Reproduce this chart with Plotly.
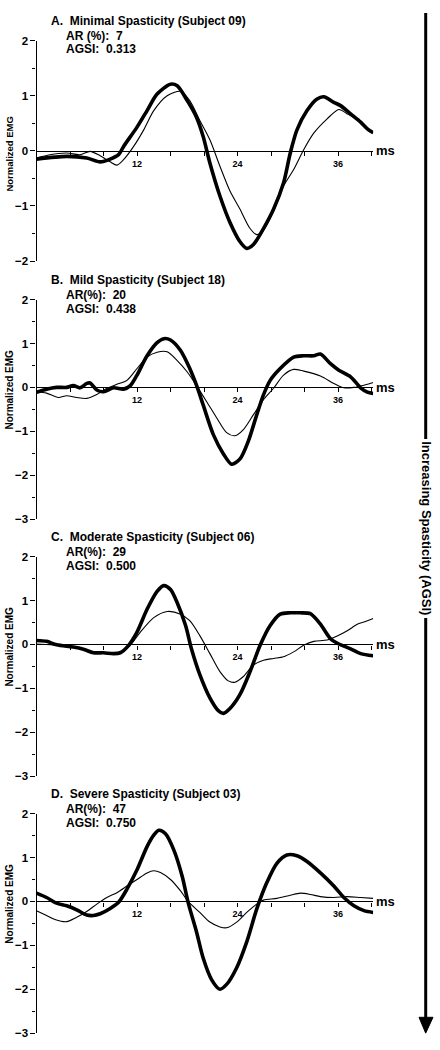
import plotly.graph_objects as go

# ---------------- data ----------------
# Panel A: Minimal Spasticity (Subject 09)
a_thick_t = [0.0, 3.6, 6.0, 7.6, 8.8, 9.8, 10.4, 12.0, 13.2, 14.4, 16.0, 16.8, 18.0, 19.1, 19.9, 20.7, 21.9, 23.1, 24.3, 25.1, 25.9, 27.1, 28.3, 29.5, 30.3, 31.1, 32.3, 33.5, 34.3, 35.5, 36.3, 37.5, 38.7, 39.5, 40.2]
a_thick_v = [-0.15, -0.1, -0.13, -0.2, -0.15, -0.07, 0.08, 0.43, 0.73, 1.03, 1.21, 1.18, 0.91, 0.61, 0.26, -0.22, -0.82, -1.3, -1.65, -1.77, -1.7, -1.41, -1.06, -0.58, -0.04, 0.38, 0.73, 0.94, 0.98, 0.88, 0.82, 0.67, 0.52, 0.40, 0.33]
a_thin_t = [0.0, 1.6, 3.6, 5.2, 6.4, 7.6, 8.8, 9.6, 10.4, 11.6, 12.8, 14.0, 15.6, 17.2, 18.3, 19.5, 20.7, 21.9, 23.1, 24.3, 25.5, 26.3, 27.1, 28.3, 29.5, 30.7, 31.9, 33.1, 34.7, 36.1, 37.1, 38.3, 39.5, 40.2]
a_thin_v = [-0.13, -0.07, -0.04, -0.07, -0.01, -0.09, -0.2, -0.26, -0.16, 0.08, 0.38, 0.73, 1.0, 1.08, 0.91, 0.55, 0.2, -0.28, -0.73, -1.06, -1.41, -1.52, -1.44, -1.09, -0.64, -0.34, 0.02, 0.32, 0.58, 0.75, 0.67, 0.56, 0.4, 0.32]

# Panel B: Mild Spasticity (Subject 18)
b_thick_t = [0.0, 1.2, 2.4, 3.6, 4.4, 5.2, 6.0, 6.4, 7.2, 8.0, 9.2, 10.4, 11.2, 12.0, 13.2, 14.4, 15.2, 16.0, 17.2, 18.3, 19.1, 19.9, 21.1, 22.3, 23.3, 24.3, 25.3, 26.3, 27.1, 27.9, 29.1, 30.7, 31.9, 33.1, 33.9, 35.1, 36.1, 37.5, 38.7, 39.5, 40.2]
b_thick_v = [-0.11, -0.04, 0.0, 0.0, 0.04, -0.01, 0.09, 0.1, -0.06, -0.1, -0.01, -0.04, 0.04, 0.28, 0.72, 1.02, 1.11, 1.08, 0.84, 0.43, 0.05, -0.4, -1.07, -1.51, -1.75, -1.63, -1.22, -0.62, -0.17, 0.16, 0.43, 0.69, 0.72, 0.72, 0.76, 0.54, 0.39, 0.24, -0.01, -0.11, -0.14]
b_thin_t = [0.0, 1.2, 2.6, 3.6, 4.8, 6.0, 7.2, 8.4, 9.6, 10.8, 12.0, 13.2, 14.4, 15.6, 16.8, 18.0, 19.1, 20.3, 21.5, 22.7, 23.7, 24.7, 25.9, 27.1, 28.3, 29.5, 30.7, 31.9, 33.9, 35.5, 36.7, 37.9, 39.1, 40.2]
b_thin_v = [-0.1, -0.13, -0.23, -0.19, -0.23, -0.25, -0.16, -0.02, 0.07, 0.16, 0.43, 0.69, 0.8, 0.81, 0.61, 0.35, 0.04, -0.32, -0.69, -1.03, -1.1, -0.96, -0.62, -0.28, -0.02, 0.28, 0.41, 0.37, 0.26, 0.09, -0.01, 0.0, 0.05, 0.11]

# Panel C: Moderate Spasticity (Subject 06)
c_thick_t = [0.0, 1.2, 2.4, 4.4, 5.6, 6.8, 8.0, 9.2, 10.0, 11.0, 12.0, 13.2, 14.4, 15.2, 16.0, 16.8, 17.8, 18.5, 19.5, 20.7, 21.7, 22.3, 23.1, 24.3, 25.5, 26.7, 27.9, 29.1, 30.3, 31.5, 32.7, 33.9, 35.1, 36.1, 37.5, 38.7, 40.2]
c_thick_v = [0.09, 0.07, -0.01, -0.06, -0.11, -0.19, -0.19, -0.21, -0.19, -0.02, 0.28, 0.8, 1.21, 1.34, 1.25, 0.95, 0.43, -0.1, -0.69, -1.22, -1.51, -1.57, -1.46, -1.14, -0.62, -0.02, 0.43, 0.69, 0.72, 0.72, 0.7, 0.46, 0.13, 0.01, -0.1, -0.21, -0.26]
c_thin_t = [0.0, 1.2, 2.4, 4.4, 6.8, 8.4, 9.6, 10.2, 11.2, 12.4, 14.0, 15.6, 17.2, 18.3, 19.5, 20.7, 21.9, 22.9, 23.7, 24.7, 25.9, 27.1, 28.3, 29.5, 30.7, 31.9, 33.1, 34.7, 35.9, 37.1, 38.3, 39.1, 40.2]
c_thin_v = [0.01, 0.0, -0.02, -0.06, -0.17, -0.19, -0.21, -0.17, -0.02, 0.28, 0.61, 0.75, 0.69, 0.54, 0.2, -0.21, -0.62, -0.83, -0.86, -0.73, -0.47, -0.36, -0.32, -0.28, -0.17, -0.02, 0.07, 0.1, 0.19, 0.31, 0.46, 0.51, 0.59]

# Panel D: Severe Spasticity (Subject 03)
d_thick_t = [0.0, 1.2, 2.4, 3.6, 4.8, 6.0, 6.8, 7.6, 8.8, 9.8, 10.8, 12.0, 13.2, 14.0, 14.6, 15.4, 16.4, 17.4, 18.1, 19.1, 19.9, 20.9, 21.9, 22.7, 23.9, 25.1, 26.3, 27.5, 28.7, 29.9, 31.1, 32.3, 33.9, 35.5, 36.7, 37.9, 39.1, 40.2]
d_thick_v = [0.19, 0.09, -0.04, -0.1, -0.19, -0.31, -0.32, -0.28, -0.16, -0.02, 0.28, 0.72, 1.25, 1.51, 1.62, 1.54, 1.17, 0.57, -0.02, -0.69, -1.29, -1.78, -2.0, -1.89, -1.51, -0.92, -0.17, 0.43, 0.87, 1.06, 1.04, 0.91, 0.65, 0.35, 0.09, -0.1, -0.21, -0.25]
d_thin_t = [0.0, 1.2, 2.2, 3.6, 4.8, 6.0, 7.2, 8.4, 9.6, 10.8, 12.0, 13.2, 14.0, 14.8, 16.0, 17.2, 18.1, 19.5, 20.7, 21.9, 22.7, 23.9, 25.1, 26.3, 27.1, 28.7, 30.3, 31.5, 32.7, 33.9, 35.5, 37.1, 38.7, 40.2]
d_thin_v = [-0.21, -0.32, -0.41, -0.46, -0.36, -0.23, -0.06, 0.09, 0.2, 0.35, 0.5, 0.65, 0.7, 0.66, 0.5, 0.24, 0.0, -0.25, -0.47, -0.58, -0.6, -0.47, -0.25, -0.06, 0.03, 0.07, 0.14, 0.19, 0.16, 0.11, 0.09, 0.11, 0.09, 0.07]

panel_titles = ["A.&nbsp; Minimal Spasticity (Subject 09)",
                "B.&nbsp; Mild Spasticity (Subject 18)",
                "C.&nbsp; Moderate Spasticity (Subject 06)",
                "D.&nbsp; Severe Spasticity (Subject 03)"]
ar_labels = ["AR (%):&nbsp; 7", "AR(%):&nbsp; 20", "AR(%):&nbsp; 29", "AR(%):&nbsp; 47"]
agsi_labels = ["AGSI:&nbsp; 0.313", "AGSI:&nbsp; 0.438", "AGSI:&nbsp; 0.500", "AGSI:&nbsp; 0.750"]
x_tick_vals = [12, 24, 36]
y_ranges = [[-2, 2], [-3, 2], [-3, 2], [-3, 2]]
side_label = "Increasing Spasticity (AGSI)"
y_axis_title = "Normalized EMG"
x_unit = "ms"

series = [
    (a_thick_t, a_thick_v, a_thin_t, a_thin_v),
    (b_thick_t, b_thick_v, b_thin_t, b_thin_v),
    (c_thick_t, c_thick_v, c_thin_t, c_thin_v),
    (d_thick_t, d_thick_v, d_thin_t, d_thin_v),
]

# ---------------- layout geometry ----------------
W, H = 440, 1050
FONT = "Liberation Sans, Arial, sans-serif"
x_left_px, x_right_px = 36.5, 373.2
x_dom = [x_left_px / W, x_right_px / W]
panel_px = [(35, 258), (297, 519), (557, 779), (817, 1039)]  # top, bottom in px

fig = go.Figure()
layout = dict(
    width=W, height=H, margin=dict(l=0, r=0, t=0, b=0),
    paper_bgcolor="white", plot_bgcolor="white", showlegend=False,
    font=dict(family=FONT, color="black"),
)
annotations = []
shapes = []

for i, (tk_t, tk_v, tn_t, tn_v) in enumerate(series):
    n = i + 1
    xa = "x" if n == 1 else f"x{n}"
    ya = "y" if n == 1 else f"y{n}"
    top_px, bot_px = panel_px[i]
    y_dom = [1 - bot_px / H, 1 - top_px / H]
    lo, hi = y_ranges[i]
    zero_pos = y_dom[0] + (0 - lo) / (hi - lo) * (y_dom[1] - y_dom[0])

    fig.add_trace(go.Scatter(x=tn_t, y=tn_v, mode="lines", xaxis=xa, yaxis=ya,
                             line=dict(color="black", width=1.1, shape="spline", smoothing=0.8)))
    fig.add_trace(go.Scatter(x=tk_t, y=tk_v, mode="lines", xaxis=xa, yaxis=ya,
                             line=dict(color="black", width=3.6, shape="spline", smoothing=0.8)))

    layout["xaxis" if n == 1 else f"xaxis{n}"] = dict(
        domain=x_dom, range=[0, 40.2], anchor="free", position=zero_pos,
        showline=True, linecolor="black", linewidth=1.2,
        showgrid=False, zeroline=False,
        tickmode="array", tickvals=x_tick_vals, ticks="outside", ticklen=4,
        tickwidth=1, tickcolor="black",
        tickfont=dict(size=9, family=FONT, weight="bold"),
        minor=dict(dtick=4, tick0=0, ticks="outside", ticklen=4, tickwidth=1, tickcolor="black"),
        fixedrange=True,
    )
    layout["yaxis" if n == 1 else f"yaxis{n}"] = dict(
        domain=y_dom, range=[lo, hi], anchor=xa,
        showline=True, linecolor="black", linewidth=1.2,
        showgrid=False, zeroline=False,
        tickmode="linear", tick0=0, dtick=1, ticks="outside", ticklen=5,
        tickwidth=1, tickcolor="black",
        tickfont=dict(size=11.5, family=FONT, weight="bold"),
        minor=dict(dtick=0.5, ticks="outside", ticklen=3, tickwidth=1, tickcolor="black"),
        fixedrange=True,
    )

    # panel headings
    annotations.append(dict(text=panel_titles[i], xref="paper", yref="paper",
                            x=49 / W, y=1 - (top_px - 20) / H, xanchor="left", yanchor="middle",
                            showarrow=False, font=dict(size=12, family=FONT, weight="bold")))
    annotations.append(dict(text=ar_labels[i], xref="paper", yref="paper",
                            x=64 / W, y=1 - (top_px - 4.5) / H, xanchor="left", yanchor="middle",
                            showarrow=False, font=dict(size=12, family=FONT, weight="bold")))
    annotations.append(dict(text=agsi_labels[i], xref="paper", yref="paper",
                            x=64 / W, y=1 - (top_px + 9) / H, xanchor="left", yanchor="middle",
                            showarrow=False, font=dict(size=12, family=FONT, weight="bold")))
    # y axis title
    annotations.append(dict(text=y_axis_title, xref="paper", yref=ya,
                            x=10 / W, y=-0.05, xanchor="center", yanchor="middle",
                            textangle=-90, showarrow=False,
                            font=dict(size=9.5 if i == 0 else 10, family=FONT, weight="bold")))
    # unit label
    annotations.append(dict(text=x_unit, xref="paper", yref=ya,
                            x=374 / W, y=0, xanchor="left", yanchor="middle",
                            showarrow=False, font=dict(size=13, family=FONT, weight="bold")))

# side arrow with label
ax_px = 425.7
text_top, text_bot = 438, 619
shapes.append(dict(type="line", xref="paper", yref="paper", x0=ax_px / W, x1=ax_px / W,
                   y0=1 - 7 / H, y1=1 - text_top / H, line=dict(color="black", width=3)))
shapes.append(dict(type="line", xref="paper", yref="paper", x0=ax_px / W, x1=ax_px / W,
                   y0=1 - text_bot / H, y1=1 - 1025 / H, line=dict(color="black", width=3)))
shapes.append(dict(type="path", xref="paper", yref="paper",
                   path=f"M {419/W} {1-1023/H} L {433/W} {1-1023/H} L {ax_px/W} {1-1039/H} Z",
                   fillcolor="black", line=dict(color="black", width=1)))
annotations.append(dict(text=side_label, xref="paper", yref="paper",
                        x=(ax_px + 0.5) / W, y=1 - (text_top + text_bot) / 2 / H,
                        xanchor="center", yanchor="middle", textangle=90, showarrow=False,
                        font=dict(size=13, family=FONT, weight="bold")))

layout["annotations"] = annotations
layout["shapes"] = shapes
fig.update_layout(**layout)
fig.write_html(
    "out.html",
    config={"displayModeBar": False},
    post_script="document.body.style.margin='0';document.body.style.padding='0';document.body.style.overflow='hidden';",
)
